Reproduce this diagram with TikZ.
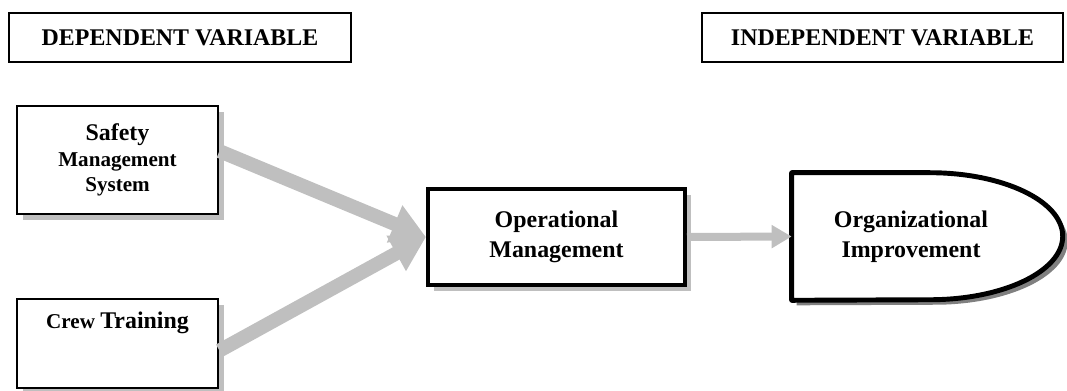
\documentclass[tikz,border=0pt]{standalone}
\usepackage{fontspec}
\setmainfont{Liberation Serif}
\usetikzlibrary{arrows.meta,shadows}

\begin{document}
\begin{tikzpicture}[x=0.025cm, y=-0.025cm,
        headbox/.style={draw, line width=1pt, inner sep=0pt, font=\fontsize{17}{20}\selectfont\bfseries},
        factorbox/.style={draw, fill=white, line width=2pt, inner sep=0pt, align=center,
            font=\fontsize{15}{18}\selectfont\bfseries,
            drop shadow={shadow xshift=0.14cm, shadow yshift=-0.14cm, fill=gray!50, opacity=1}},
        big/.style={font=\fontsize{17}{21}\selectfont\bfseries}]
    \useasboundingbox (0, 0) rectangle (1067, 390);

    \node[headbox, minimum width=8.55cm, minimum height=1.225cm] (dep) at (180, 37.5) {DEPENDENT VARIABLE};
    \node[headbox, minimum width=9.025cm, minimum height=1.225cm] (indep) at (882.5, 37.5) {INDEPENDENT VARIABLE};

    \node[factorbox, minimum width=5.025cm, minimum height=2.7cm] (safety) at (117.5, 160)
        {{\fontsize{17}{18}\selectfont Safety}\\ Management\\ System};
    \node[factorbox, minimum width=5.025cm, minimum height=2.225cm, text depth=1.15cm] (crew) at (117.5, 343.5)
        {Crew {\fontsize{17}{18}\selectfont Training}};
    \node[factorbox, big, line width=2.8pt, minimum width=6.425cm, minimum height=2.4cm] (op) at (556.5, 237)
        {Operational\\ Management};

    % outcome: rounded (delay) shape with dark shadow
    \node[big, align=center, minimum width=5.95cm, minimum height=3.175cm, inner sep=0pt] (org) at (911, 236.5) {};
    \fill[gray] ([shift={(5, 5)}]org.north west) -- ++(138, 0)
        arc[start angle=90, end angle=-90, x radius=3.325cm, y radius=1.5875cm] -- ([shift={(5, 5)}]org.south west) -- cycle;
    \draw[fill=white, line width=3.5pt, line join=round] (org.north west) -- ++(138, 0)
        arc[start angle=90, end angle=-90, x radius=3.325cm, y radius=1.5875cm] -- (org.south west) -- cycle;
    \node[big, align=center] at (org) {Organizational\\ Improvement};

    \begin{scope}[draw=gray!50, line width=0.35cm, -{Triangle[length=0.85cm, width=0.95cm]}]
        \draw (safety.5) -- (op.west);
        \draw (crew.-4) -- (op.west);
    \end{scope}
    \draw[draw=gray!50, line width=0.2cm, -{Triangle[length=0.5cm, width=0.55cm]}] (op.east) -- (org.west);
\end{tikzpicture}
\end{document}
